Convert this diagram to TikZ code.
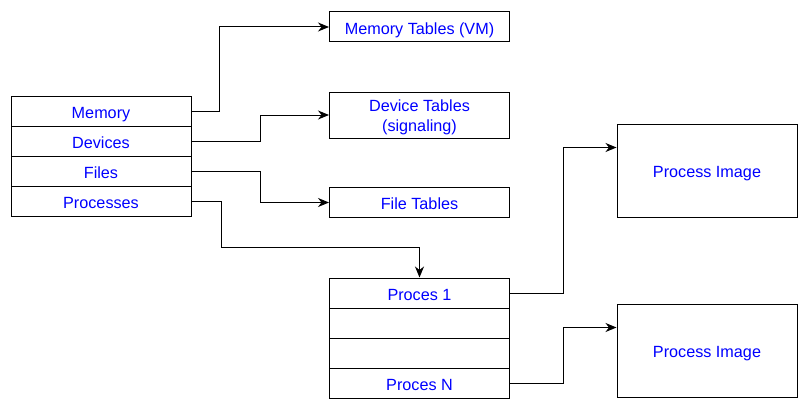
\documentclass[tikz,border=0pt]{standalone}
\usepackage{fontspec}
\setmainfont{Liberation Sans}
\usetikzlibrary{arrows.meta}
\definecolor{txtblue}{RGB}{0,0,255}
\tikzset{
  cell/.style={draw=black, line width=1pt, minimum width=180pt, minimum height=30pt, inner sep=0pt, text=txtblue, font=\fontsize{16.2}{19.5}\selectfont, align=center},
  one/.style={cell, text height=14.5pt, text depth=0pt},
  conn/.style={draw=black, line width=1pt, -{Stealth[length=11pt,width=9pt,inset=3.5pt]}},
}
\begin{document}
\begin{tikzpicture}[x=1pt,y=-1pt]
\useasboundingbox (0,0) rectangle (810,412);
% left stack
\node[one] (mem) at (101,111) {Memory};
\node[one] (dev) at (101,141) {Devices};
\node[one] (fil) at (101,171) {Files};
\node[one] (pro) at (101,201) {Processes};
% tables
\node[one] (mt) at (419.5,27) {Memory Tables (VM)};
\node[cell, minimum height=46pt] (dt) at (419.5,115) {};
\node[txtblue, font=\fontsize{16.2}{19.5}\selectfont, align=center, inner sep=0pt] (dtlabel) at ([yshift=-2.5pt]dt.center) {Device Tables\\(signaling)};
\node[one] (ft) at (419.5,202.5) {File Tables};
% process stack
\node[one] (p1) at (419.5,293) {Proces 1};
\node[one] (p2) at (419.5,323) {};
\node[one] (p3) at (419.5,353) {};
\node[one] (pn) at (419.5,383) {Proces N};
% process images
\node[one, minimum height=93pt] (img1) at (707,170.5) {Process Image};
\node[one, minimum height=93pt] (img2) at (707,350.5) {Process Image};
% connectors
\draw[conn] (mem.east) -- ++(27.5,0) |- (mt.west);
\draw[conn] (dev.east) -- ++(69,0) |- (dt.west);
\draw[conn] (fil.east) -- ++(69,0) |- (ft.west);
\draw[conn] (pro.east) -- ++(30,0) -- ++(0,46) -| (p1.north);
\draw[conn] (p1.east) -- ++(53,0) |- ([yshift=-24pt]img1.north west);
\draw[conn] (pn.east) -- ++(53,0) |- ([yshift=-24pt]img2.north west);
\end{tikzpicture}
\end{document}
